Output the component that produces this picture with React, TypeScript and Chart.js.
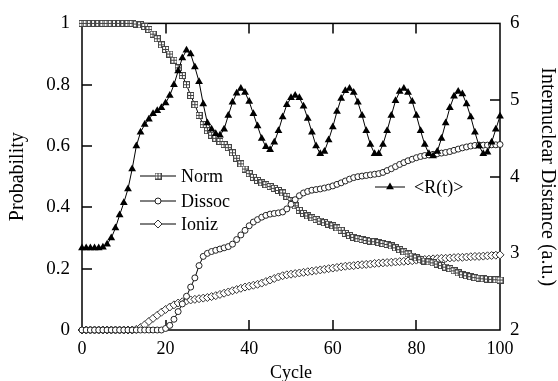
import React, { useEffect, useRef } from 'react';
import { Chart, registerables } from 'chart.js';
import { drawPoint } from 'chart.js/helpers';

Chart.register(...registerables);

// ---------------- data ----------------
const CYCLES = [
  0, 1, 2, 3, 4, 5, 6, 7, 8, 9, 10, 11, 12, 13, 14, 15, 16, 17, 18, 19, 20,
  21, 22, 23, 24, 25, 26, 27, 28, 29, 30, 31, 32, 33, 34, 35, 36, 37, 38, 39, 40,
  41, 42, 43, 44, 45, 46, 47, 48, 49, 50, 51, 52, 53, 54, 55, 56, 57, 58, 59, 60,
  61, 62, 63, 64, 65, 66, 67, 68, 69, 70, 71, 72, 73, 74, 75, 76, 77, 78, 79, 80,
  81, 82, 83, 84, 85, 86, 87, 88, 89, 90, 91, 92, 93, 94, 95, 96, 97, 98, 99, 100,
];

const NORM = [
  1, 1, 1, 1, 1, 1, 1, 1, 1, 1, 1, 1, 1, 0.998, 0.995, 0.99, 0.98, 0.965, 0.95, 0.93, 0.915,
  0.9, 0.88, 0.855, 0.83, 0.8, 0.765, 0.735, 0.7, 0.67, 0.65,
  0.635, 0.625, 0.615, 0.605, 0.595, 0.578, 0.56, 0.542, 0.525, 0.51,
  0.498, 0.488, 0.48, 0.474, 0.468, 0.462, 0.455, 0.447, 0.436, 0.422,
  0.405, 0.39, 0.38, 0.372, 0.366, 0.36, 0.355, 0.35, 0.345, 0.34,
  0.333, 0.325, 0.315, 0.308, 0.302, 0.298, 0.295, 0.292, 0.29, 0.288,
  0.285, 0.282, 0.279, 0.274, 0.268, 0.262, 0.255, 0.248, 0.241, 0.235,
  0.229, 0.225, 0.222, 0.219, 0.215, 0.21, 0.205, 0.2, 0.193, 0.186,
  0.18, 0.177, 0.174, 0.171, 0.169, 0.167, 0.166, 0.165, 0.164, 0.163,
];

const DISSOC = [
  0, 0, 0, 0, 0, 0, 0, 0, 0, 0, 0, 0, 0, 0, 0, 0, 0, 0, 0, 0, 0.005,
  0.015, 0.035, 0.06, 0.085, 0.11, 0.14, 0.17, 0.21, 0.24, 0.25,
  0.256, 0.26, 0.264, 0.268, 0.272, 0.28, 0.295, 0.31, 0.325, 0.34,
  0.352, 0.36, 0.368, 0.374, 0.378, 0.38, 0.382, 0.385, 0.395, 0.41,
  0.425, 0.438, 0.447, 0.452, 0.456, 0.458, 0.46, 0.463, 0.466, 0.47,
  0.475, 0.48, 0.486, 0.492, 0.497, 0.5, 0.502, 0.504, 0.506, 0.508,
  0.51, 0.514, 0.52, 0.526, 0.533, 0.54, 0.546, 0.552, 0.557, 0.562,
  0.566, 0.569, 0.571, 0.573, 0.575, 0.577, 0.579, 0.582, 0.586, 0.59,
  0.594, 0.597, 0.6, 0.602, 0.603, 0.603, 0.603, 0.604, 0.604, 0.605,
];

const IONIZ = [
  0, 0, 0, 0, 0, 0, 0, 0, 0, 0, 0, 0, 0, 0.002, 0.008, 0.017, 0.028, 0.038, 0.048, 0.058, 0.067,
  0.075, 0.082, 0.088, 0.092, 0.095, 0.098, 0.1, 0.102, 0.104, 0.106,
  0.109, 0.112, 0.116, 0.12, 0.124, 0.128, 0.132, 0.136, 0.14, 0.143,
  0.146, 0.149, 0.153, 0.158, 0.163, 0.168, 0.173, 0.177, 0.18, 0.182,
  0.184, 0.186, 0.188, 0.19, 0.192, 0.194, 0.196, 0.198, 0.2, 0.202,
  0.204, 0.206, 0.208, 0.209, 0.21, 0.212, 0.213, 0.214, 0.215, 0.217,
  0.218, 0.219, 0.22, 0.221, 0.222, 0.223, 0.224, 0.225, 0.226, 0.228,
  0.229, 0.23, 0.231, 0.232, 0.233, 0.234, 0.234, 0.235, 0.236, 0.237,
  0.237, 0.238, 0.239, 0.24, 0.24, 0.241, 0.242, 0.243, 0.244, 0.245,
];

const R_T = [
  3.07, 3.07, 3.07, 3.07, 3.07, 3.08, 3.12, 3.2, 3.33, 3.5, 3.66,
  3.84, 4.1, 4.4, 4.58, 4.68, 4.75, 4.82, 4.86, 4.9, 4.96,
  5.06, 5.2, 5.38, 5.55, 5.65, 5.6, 5.43, 5.24, 4.95, 4.7,
  4.62, 4.56, 4.54, 4.62, 4.8, 4.97, 5.09, 5.15, 5.1, 4.98,
  4.82, 4.66, 4.5, 4.39, 4.35, 4.45, 4.6, 4.78, 4.94, 5.03,
  5.06, 5.03, 4.92, 4.76, 4.58, 4.4, 4.3, 4.33, 4.48, 4.65,
  4.85, 5.02, 5.12, 5.15, 5.1, 4.97, 4.8, 4.6, 4.42, 4.3,
  4.3, 4.42, 4.6, 4.8, 4.99, 5.11, 5.15, 5.1, 4.98, 4.8,
  4.6, 4.42, 4.3, 4.27, 4.33, 4.5, 4.7, 4.9, 5.05, 5.11,
  5.08, 4.95, 4.78, 4.58, 4.4, 4.3, 4.32, 4.45, 4.62, 4.79,
];

const SERIES_NAMES = ['Norm', 'Dissoc', 'Ioniz', '<R(t)>'];
const X_TITLE = 'Cycle';
const Y_LEFT_TITLE = 'Probability';
const Y_RIGHT_TITLE = 'Internuclear Distance (a.u.)';

// ---------------- styling ----------------
const SERIF = "'Liberation Serif', 'Times New Roman', 'DejaVu Serif', serif";

function makeNormMarker(): HTMLCanvasElement {
  const c = document.createElement('canvas');
  c.width = 7;
  c.height = 7;
  const g = c.getContext('2d')!;
  g.fillStyle = '#fff';
  g.fillRect(0, 0, 7, 7);
  g.strokeStyle = '#444';
  g.lineWidth = 1;
  g.strokeRect(0.5, 0.5, 6, 6);
  g.beginPath();
  g.moveTo(3.5, 0.5);
  g.lineTo(3.5, 6.5);
  g.moveTo(0.5, 3.5);
  g.lineTo(6.5, 3.5);
  g.stroke();
  return c;
}

const toXY = (vals: number[]) => vals.map((v, i) => ({ x: CYCLES[i], y: v }));

const framePlugin = {
  id: 'frameTicks',
  beforeDatasetsDraw(chart: any) {
    const { ctx, chartArea: a, scales } = chart;
    const L = 10;
    ctx.save();
    ctx.strokeStyle = '#000';
    ctx.lineWidth = 1.5;
    ctx.strokeRect(a.left, a.top, a.right - a.left, a.bottom - a.top);
    ctx.beginPath();
    scales.x.ticks.forEach((t: any) => {
      const px = Math.round(scales.x.getPixelForValue(t.value));
      if (px <= a.left + 1 || px >= a.right - 1) return;
      ctx.moveTo(px, a.bottom);
      ctx.lineTo(px, a.bottom - L);
      ctx.moveTo(px, a.top);
      ctx.lineTo(px, a.top + L);
    });
    scales.y.ticks.forEach((t: any) => {
      const py = Math.round(scales.y.getPixelForValue(t.value));
      if (py <= a.top + 1 || py >= a.bottom - 1) return;
      ctx.moveTo(a.left, py);
      ctx.lineTo(a.left + L, py);
    });
    scales.y1.ticks.forEach((t: any) => {
      const py = Math.round(scales.y1.getPixelForValue(t.value));
      if (py <= a.top + 1 || py >= a.bottom - 1) return;
      ctx.moveTo(a.right, py);
      ctx.lineTo(a.right - L, py);
    });
    ctx.stroke();
    ctx.restore();
  },
};

const legendPlugin = {
  id: 'insideLegend',
  afterDatasetsDraw(chart: any) {
    const { ctx } = chart;
    const items = [
      { ds: 0, x1: 140, x2: 176, y: 176, tx: 181 },
      { ds: 1, x1: 140, x2: 176, y: 201, tx: 181 },
      { ds: 2, x1: 140, x2: 176, y: 224, tx: 181 },
      { ds: 3, x1: 375, x2: 405, y: 187, tx: 414 },
    ];
    ctx.save();
    items.forEach((it) => {
      const d = chart.data.datasets[it.ds];
      ctx.strokeStyle = '#000';
      ctx.lineWidth = 1;
      ctx.beginPath();
      ctx.moveTo(it.x1, it.y);
      ctx.lineTo(it.x2, it.y);
      ctx.stroke();
      ctx.fillStyle = d.pointBackgroundColor;
      ctx.strokeStyle = d.pointBorderColor;
      ctx.lineWidth = d.pointBorderWidth;
      drawPoint(
        ctx,
        { pointStyle: d.pointStyle, rotation: 0, radius: d.pointRadius, borderWidth: d.pointBorderWidth } as any,
        (it.x1 + it.x2) / 2,
        it.y,
      );
      ctx.fillStyle = '#000';
      ctx.font = `18px ${SERIF}`;
      ctx.textAlign = 'left';
      ctx.textBaseline = 'middle';
      ctx.fillText(SERIES_NAMES[it.ds], it.tx, it.y + 1);
    });
    ctx.restore();
  },
};

const fmt = (v: number) => String(Number(v.toFixed(2)));

export default function App() {
  const ref = useRef<HTMLCanvasElement | null>(null);

  useEffect(() => {
    if (!ref.current) return;
    document.body.style.margin = '0';
    const normMarker = makeNormMarker();
    const chart = new Chart(ref.current, {
      type: 'line',
      data: {
        datasets: [
          {
            label: SERIES_NAMES[0],
            data: toXY(NORM),
            yAxisID: 'y',
            borderColor: '#000',
            borderWidth: 1,
            pointStyle: normMarker as any,
            pointRadius: 3.5,
            pointBackgroundColor: '#fff',
            pointBorderColor: '#444',
            pointBorderWidth: 1,
            order: 3,
            clip: false as any,
          },
          {
            label: SERIES_NAMES[1],
            data: toXY(DISSOC),
            yAxisID: 'y',
            borderColor: '#000',
            borderWidth: 1,
            pointStyle: 'circle',
            pointRadius: 3,
            pointBackgroundColor: '#fff',
            pointBorderColor: '#222',
            pointBorderWidth: 1,
            order: 2,
            clip: false as any,
          },
          {
            label: SERIES_NAMES[2],
            data: toXY(IONIZ),
            yAxisID: 'y',
            borderColor: '#000',
            borderWidth: 1,
            pointStyle: 'rectRot',
            pointRadius: 4,
            pointBackgroundColor: '#fff',
            pointBorderColor: '#333',
            pointBorderWidth: 1,
            order: 4,
            clip: false as any,
          },
          {
            label: SERIES_NAMES[3],
            data: toXY(R_T),
            yAxisID: 'y1',
            borderColor: '#000',
            borderWidth: 1,
            pointStyle: 'triangle',
            pointRadius: 4.5,
            pointBackgroundColor: '#000',
            pointBorderColor: '#000',
            pointBorderWidth: 0,
            order: 1,
            clip: false as any,
          },
        ],
      },
      options: {
        responsive: false,
        animation: false,
        devicePixelRatio: 1,
        layout: { padding: { top: 19, left: 0, right: 0, bottom: 0 } },
        plugins: {
          legend: { display: false },
          tooltip: { enabled: false },
        },
        elements: { line: { tension: 0 } },
        scales: {
          x: {
            type: 'linear',
            min: 0,
            max: 100,
            grid: { display: false, drawTicks: false },
            border: { display: false },
            ticks: {
              stepSize: 20,
              padding: 8,
              color: '#000',
              font: { family: SERIF, size: 18 },
              maxRotation: 0,
              callback: (v: any) => fmt(Number(v)),
            },
            title: {
              display: true,
              text: X_TITLE,
              color: '#000',
              font: { family: SERIF, size: 18 },
              padding: { top: 0, bottom: -3 },
            },
            afterFit(s: any) {
              s.height = 51;
            },
          },
          y: {
            type: 'linear',
            position: 'left',
            min: 0,
            max: 1,
            grid: { display: false, drawTicks: false },
            border: { display: false },
            ticks: {
              stepSize: 0.2,
              padding: 12,
              color: '#000',
              font: { family: SERIF, size: 19 },
              callback: (v: any) => fmt(Number(v)),
            },
            title: {
              display: true,
              text: Y_LEFT_TITLE,
              color: '#000',
              font: { family: SERIF, size: 20 },
              padding: { top: 6, bottom: 0 },
            },
            afterFit(s: any) {
              s.width = 82;
            },
          },
          y1: {
            type: 'linear',
            position: 'right',
            min: 2,
            max: 6,
            grid: { display: false, drawTicks: false },
            border: { display: false },
            ticks: {
              stepSize: 1,
              padding: 10,
              color: '#000',
              font: { family: SERIF, size: 19 },
              callback: (v: any) => fmt(Number(v)),
            },
            title: {
              display: true,
              text: Y_RIGHT_TITLE,
              color: '#000',
              font: { family: SERIF, size: 20 },
              padding: { top: -1, bottom: 0 },
            },
            afterFit(s: any) {
              s.width = 58;
            },
          },
        },
      } as any,
      plugins: [framePlugin, legendPlugin],
    });
    return () => chart.destroy();
  }, []);

  return (
    <div style={{ position: 'absolute', left: 0, top: 0, width: 558, height: 381, background: '#fff' }}>
      <canvas ref={ref} width={558} height={381} style={{ display: 'block' }} />
    </div>
  );
}
